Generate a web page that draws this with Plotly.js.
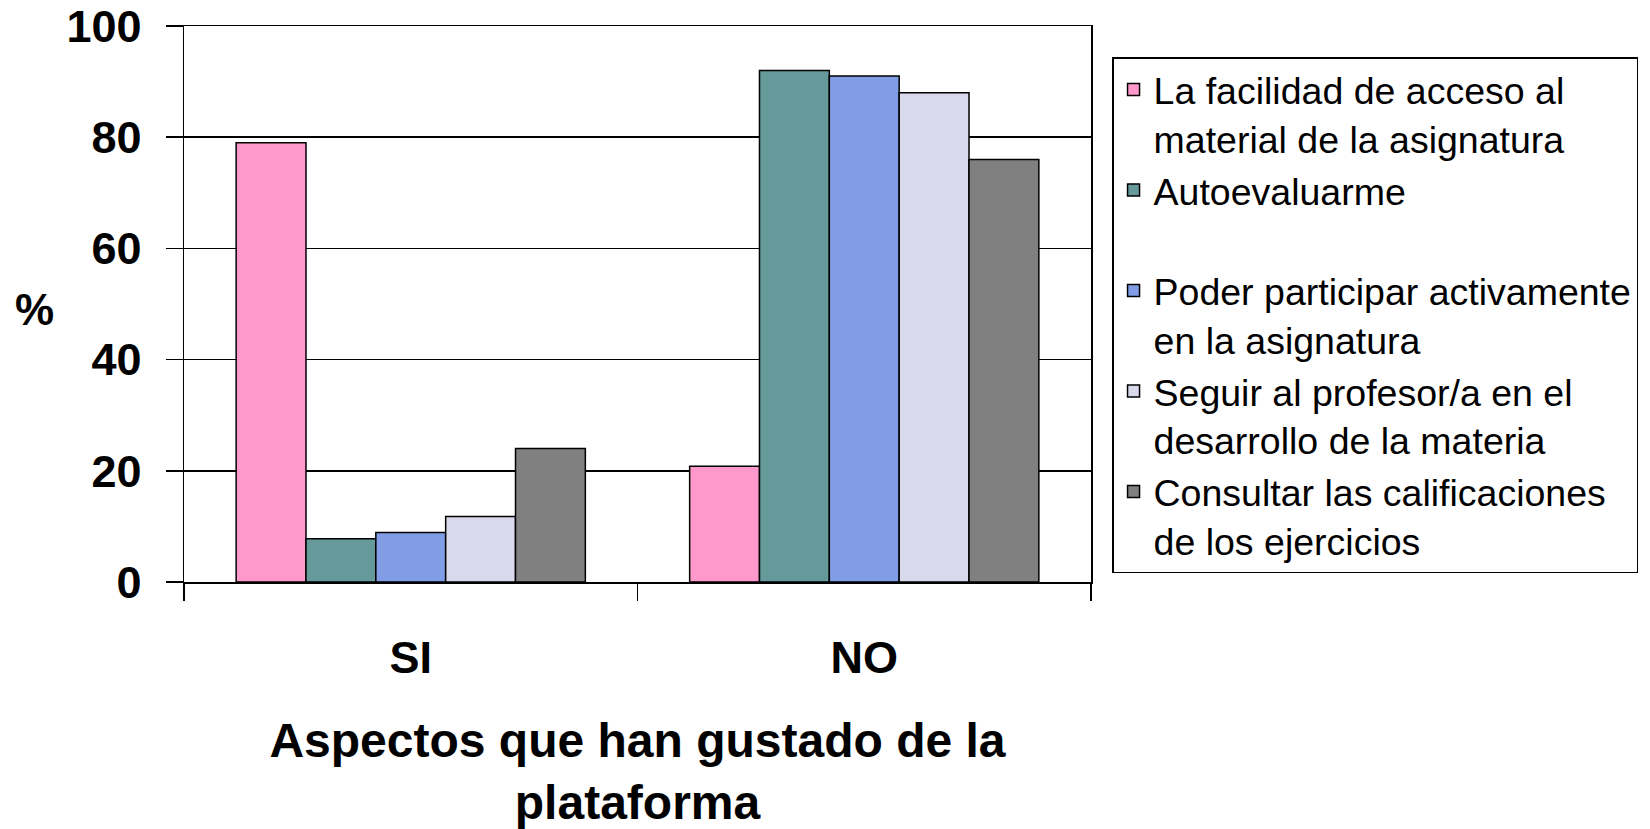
<!DOCTYPE html>
<html>
<head>
<meta charset="utf-8">
<script src="https://cdn.plot.ly/plotly-3.0.1.min.js"></script>
<style>html,body{margin:0;padding:0;background:#fff;}#chart{width:1650px;height:829px;}</style>
</head>
<body>
<div id="chart"></div>
<script>
const categories = ["SI", "NO"];
const seriesNames = [
  "La facilidad de acceso al<br>material de la asignatura",
  "Autoevaluarme<br> ",
  "Poder participar activamente<br>en la asignatura",
  "Seguir al profesor/a en el<br>desarrollo de la materia",
  "Consultar las calificaciones<br>de los ejercicios"
];
const facilidad = [79, 20.8];
const autoevaluarme = [7.8, 92];
const participar = [8.9, 91];
const seguir = [11.8, 88];
const consultar = [24, 76];
const yTicks = [0, 20, 40, 60, 80, 100];

const colors = ["#FF99CC", "#669999", "#809DE5", "#D9D9EC", "#808080"];
const values = [facilidad, autoevaluarme, participar, seguir, consultar];
const FONT = "'Liberation Sans', Arial, sans-serif";

const traces = values.map((v, i) => ({
  type: "bar",
  x: categories,
  y: v,
  name: seriesNames[i],
  marker: {color: colors[i], line: {color: "#000", width: 1.5}},
  hoverinfo: "y+name"
}));

const layout = {
  width: 1650, height: 829,
  margin: {l: 184, r: 559, t: 26, b: 247},
  paper_bgcolor: "#fff", plot_bgcolor: "#fff",
  barmode: "group", bargap: 0.23, bargroupgap: 0,
  font: {family: FONT, color: "#000"},
  showlegend: true,
  legend: {
    x: 1.0232, xanchor: "left", y: 0.944, yanchor: "top",
    bordercolor: "#000", borderwidth: 1.5, bgcolor: "#fff",
    font: {family: FONT, size: 37.5, color: "#000"},
    valign: "top", traceorder: "normal", tracegroupgap: 0
  },
  xaxis: {
    type: "category",
    tickfont: {family: FONT, size: 45, color: "#000", weight: "bold"},
    ticks: "outside", tickson: "boundaries", ticklen: 17, tickwidth: 1.5, tickcolor: "#000",
    showline: true, linecolor: "#000", linewidth: 1.5, mirror: true,
    ticklabelstandoff: 35,
    title: {text: "<b>Aspectos que han gustado de la<br>plataforma</b>", font: {family: FONT, size: 48, color: "#000"}, standoff: 45}
  },
  yaxis: {
    range: [0, 100], tickvals: yTicks, ticktext: yTicks.map(String),
    tickfont: {family: FONT, size: 45, color: "#000", weight: "bold"},
    ticks: "outside", ticklen: 17, tickwidth: 1.5, tickcolor: "#000",
    showline: true, linecolor: "#000", linewidth: 1.5, mirror: true,
    showgrid: true, gridcolor: "#000", gridwidth: 1.5,
    zeroline: false, ticklabelstandoff: 15
  },
  annotations: [{
    text: "<b>%</b>", xref: "paper", yref: "paper", x: -0.165, y: 0.49,
    xanchor: "center", yanchor: "middle", showarrow: false,
    font: {family: FONT, size: 44, color: "#000"}
  }]
};

Plotly.newPlot("chart", traces, layout, {displayModeBar: false, staticPlot: true});
</script>
</body>
</html>
